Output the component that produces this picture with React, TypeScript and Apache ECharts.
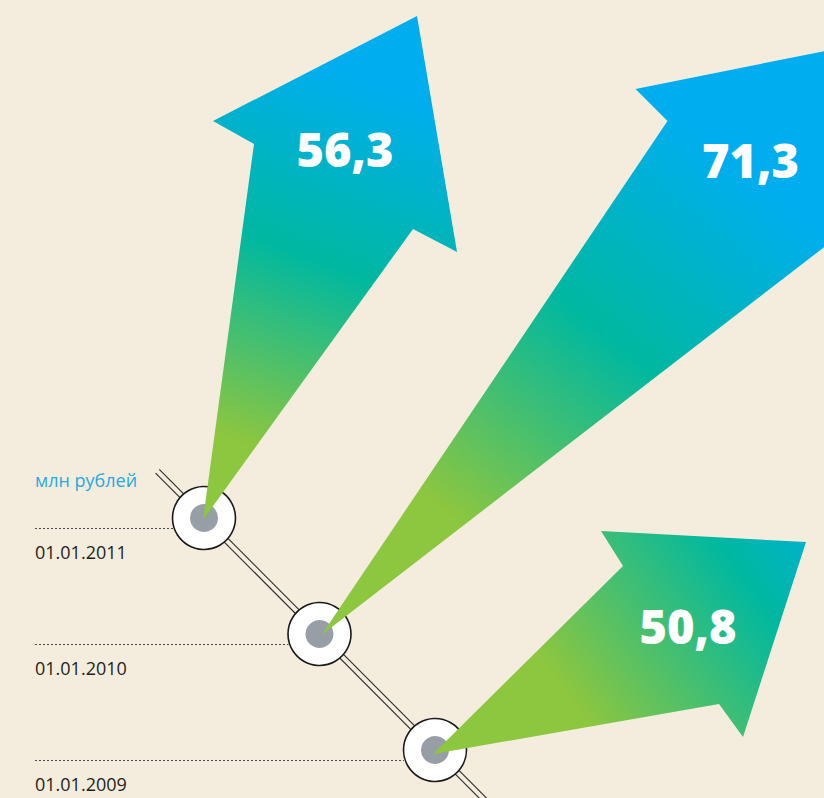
import React, { useEffect, useRef } from 'react';
import * as echarts from 'echarts';

// ---- data ----
const DATES = ['01.01.2011', '01.01.2010', '01.01.2009'];
const VALUES = [56.3, 71.3, 50.8];
const UNIT_LABEL = 'млн рублей';

// ---- styles ----
const BG = '#F4EDDE';
const GREEN = '#8DC63F';
const TEAL = '#00B8A0';
const BLUE = '#00AEEF';
const FONT = '"Open Sans", "Noto Sans", sans-serif';

// arrow polygons, relative to marker centre (decorative geometry)
const ARROW_SHAPES = [
  {
    pts: [[-1, 2], [50, -374], [9, -397], [213, -502], [253, -266], [209, -289]],
    grad: [1, -2, 191, -513],
    stops: [[0, GREEN], [0.15, GREEN], [0.51, TEAL], [0.85, BLUE], [1, BLUE]],
    label: [141, -369],
  },
  {
    pts: [[2, 1], [348, -513], [316, -545], [610, -604], [670, -334], [580, -445]],
    grad: [0, 0, 434, -546],
    stops: [[0, GREEN], [0.25, GREEN], [0.59, TEAL], [0.9, BLUE], [1, BLUE]],
    label: [431, -474],
  },
  {
    pts: [[-2, 4], [188, -184], [166, -219], [371, -208], [308, -13], [284, -46]],
    grad: [-2, 4, 385, -280],
    stops: [[0, GREEN], [0.3, GREEN], [0.74, TEAL], [1, '#00AEE8']],
    label: [253, -124],
  },
];

const fmt = (v: number) => v.toFixed(1).replace('.', ',');

export default function App() {
  const ref = useRef<HTMLDivElement>(null);

  useEffect(() => {
    if (!ref.current) return;
    const chart = echarts.init(ref.current, undefined, { renderer: 'svg' });
    const data = DATES.map((d, i) => [d, d, VALUES[i]]);
    const last = DATES.length - 1;

    const option: any = {
      animation: false,
      backgroundColor: BG,
      grid: { left: 204, top: 518, width: 231, height: 232, outerBoundsMode: 'none' },
      xAxis: { type: 'category', data: DATES, show: false, boundaryGap: false },
      yAxis: { type: 'category', data: [...DATES].reverse(), show: false, boundaryGap: false },
      series: [
        {
          type: 'custom',
          name: 'timeline',
          z: 1,
          clip: false,
          data,
          encode: { x: 0, y: 1 },
          renderItem: (params: any, api: any) => {
            if (params.dataIndex !== 0) return { type: 'group', children: [] };
            const a = api.coord([0, last]);
            const b = api.coord([last, 0]);
            const dx = b[0] - a[0];
            const dy = b[1] - a[1];
            const len = Math.hypot(dx, dy);
            const ux = dx / len, uy = dy / len;
            const nx = -uy, ny = ux;
            const s = [a[0] - ux * 66, a[1] - uy * 66];
            const e = [b[0] + ux * 120, b[1] + uy * 120];
            const off = 2.6;
            const mk = (k: number) => ({
              type: 'line',
              shape: { x1: s[0] + nx * off * k, y1: s[1] + ny * off * k, x2: e[0] + nx * off * k, y2: e[1] + ny * off * k },
              style: { stroke: '#2b2b2b', lineWidth: 1.1 },
            });
            return { type: 'group', children: [mk(1), mk(-1)] };
          },
        },
        {
          type: 'custom',
          name: 'guides',
          z: 2,
          clip: false,
          data,
          encode: { x: 0, y: 1 },
          renderItem: (params: any, api: any) => {
            const c = api.coord([api.value(0), api.value(1)]);
            const i = params.dataIndex;
            const y = Math.round(c[1] + 10) + 0.5;
            const children: any[] = [
              {
                type: 'line',
                shape: { x1: 35, y1: y, x2: c[0] - 31, y2: y },
                style: { stroke: '#4a4a4a', lineWidth: 1, lineDash: [2, 2] },
              },
              {
                type: 'text',
                style: {
                  text: DATES[i], x: 35, y: c[1] + 34, fill: '#231F20',
                  fontSize: 18, fontFamily: FONT, align: 'left', verticalAlign: 'middle',
                },
              },
            ];
            if (i === 0) {
              children.push({
                type: 'text',
                style: {
                  text: UNIT_LABEL, x: 35, y: c[1] - 38, fill: '#27A9E1',
                  fontSize: 18, fontFamily: FONT, align: 'left', verticalAlign: 'middle',
                },
              });
            }
            return { type: 'group', children };
          },
        },
        {
          type: 'custom',
          name: 'markers',
          z: 3,
          clip: false,
          data,
          encode: { x: 0, y: 1 },
          renderItem: (params: any, api: any) => {
            const c = api.coord([api.value(0), api.value(1)]);
            return {
              type: 'group',
              children: [
                { type: 'circle', shape: { cx: c[0], cy: c[1], r: 31.5 }, style: { fill: '#FFFFFF', stroke: '#1a1a1a', lineWidth: 1.6 } },
                { type: 'circle', shape: { cx: c[0], cy: c[1], r: 14 }, style: { fill: '#979EA5' } },
              ],
            };
          },
        },
        {
          type: 'custom',
          name: 'arrows',
          z: 4,
          clip: false,
          data,
          encode: { x: 0, y: 1 },
          renderItem: (params: any, api: any) => {
            const c = api.coord([api.value(0), api.value(1)]);
            const sh = ARROW_SHAPES[params.dataIndex];
            const pts = sh.pts.map(([dx, dy]) => [c[0] + dx, c[1] + dy]);
            const g = sh.grad;
            const fill = new echarts.graphic.LinearGradient(
              c[0] + g[0], c[1] + g[1], c[0] + g[2], c[1] + g[3],
              sh.stops.map(([o, col]) => ({ offset: o as number, color: col as string })),
              true
            );
            return {
              type: 'group',
              children: [
                { type: 'polygon', shape: { points: pts }, style: { fill } },
                {
                  type: 'text',
                  style: {
                    text: fmt(api.value(2)), x: c[0] + sh.label[0], y: c[1] + sh.label[1],
                    fill: '#FFFFFF', fontSize: 47, fontWeight: 800, fontFamily: FONT,
                    align: 'center', verticalAlign: 'middle',
                  },
                },
              ],
            };
          },
        },
      ],
    };
    chart.setOption(option);
    return () => chart.dispose();
  }, []);

  return (
    <div
      ref={ref}
      style={{ position: 'fixed', left: 0, top: 0, width: 824, height: 798 }}
    />
  );
}
